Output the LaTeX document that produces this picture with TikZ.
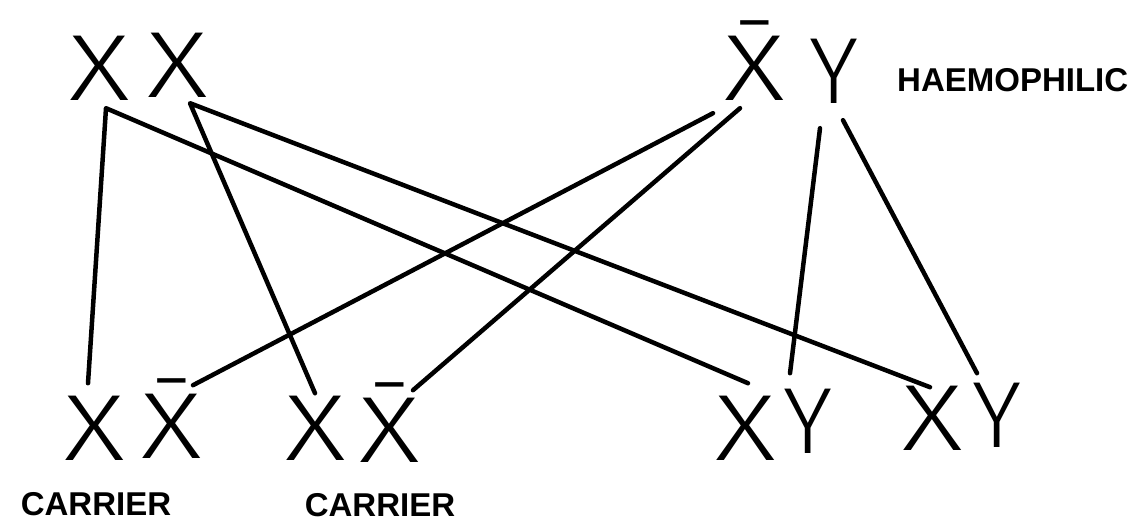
\documentclass[tikz,border=0pt]{standalone}
\usepackage{fontspec}
\usetikzlibrary{calc}
\IfFontExistsTF{Fira Sans Light}{\newfontfamily\genefont{Fira Sans Light}}{\newfontfamily\genefont{Fira Sans}}
\newfontfamily\notefont{Liberation Sans}

\begin{document}
\begin{tikzpicture}[x=1pt,y=-1pt,
    gene/.style={font=\genefont\fontsize{94}{94}\selectfont,inner sep=0pt,anchor=base},
    xgene/.style={gene,xscale=1.25},
    note/.style={font=\notefont\bfseries\fontsize{33}{33}\selectfont,inner sep=0pt,anchor=base},
    cross/.style={line width=4.5pt,line cap=round,line join=round}
]
\useasboundingbox (0,0) rectangle (1131,524);
\node[xgene] (m1) at (100,100) {X};
\node[xgene] (m2) at (178,98) {X};
\node[xgene] (f1) at (755,100) {\=X};
\node[gene] (f2) at (834,104) {Y};
\node[note,anchor=base west] (hae) at (897,92) {HAEMOPHILIC};
\node[xgene] (c1a) at (95,460) {X};
\node[xgene] (c1b) at (172,458) {\=X};
\node[xgene] (c2a) at (316,460) {X};
\node[xgene] (c2b) at (390,462) {\=X};
\node[xgene] (c3a) at (746,460) {X};
\node[gene] (c3b) at (808,453) {Y};
\node[xgene] (c4a) at (933,450) {X};
\node[gene] (c4b) at (997,447) {Y};
\node[note] (car1) at (96,515) {CARRIER};
\node[note] (car2) at (380,516) {CARRIER};
\draw[cross] ($(c1a.south)+(-7,-77)$)--($(m1.south)+(6,8)$)--($(c3a.south)+(2,-77)$);
\draw[cross] ($(c2a.south)+(-1,-67)$)--($(m2.south)+(12,5)$)--($(c4a.south)+(-3,-63)$);
\draw[cross] ($(f1.south)+(-42,13)$)--($(c1b.south)+(21,-73)$);
\draw[cross] ($(f1.south)+(-15,8)$)--($(c2b.south)+(23,-72)$);
\draw[cross] ($(f2.south)+(-14,24)$)--($(c3b.south)+(-18,-80)$);
\draw[cross] ($(f2.south)+(9,16)$)--($(c4b.south)+(-20,-74)$);
\end{tikzpicture}
\end{document}
